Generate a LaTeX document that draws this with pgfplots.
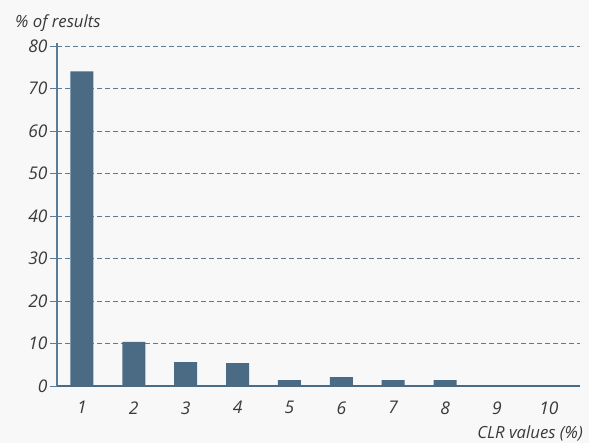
\documentclass[border=0pt]{standalone}
\usepackage{pgfplots}
\pgfplotsset{compat=1.18}
\usepackage{fontspec}
\setmainfont{Open Sans}
\definecolor{bg}{HTML}{F8F8F8}
\definecolor{barc}{HTML}{4B6B85}
\definecolor{gridc}{HTML}{5B7B96}
\definecolor{txt}{HTML}{3A3A3A}
\begin{document}
\begin{tikzpicture}
\fill[bg] (-57bp,-57bp) rectangle (532bp,386bp);
\useasboundingbox (-57bp,-57bp) rectangle (532bp,386bp);
\begin{axis}[
    at={(0,0)}, anchor=south west,
    scale only axis,
    width=523bp, height=343bp,
    xmin=0.52, xmax=10.6,
    ymin=0, ymax=80.7,
    ytick={0,10,...,80},
    xtick={1,...,10},
    axis x line*=bottom,
    axis y line*=left,
    axis line style={gridc, line width=1.2pt, -},
    x axis line style={barc, line width=1.6pt},
    ymajorgrids,
    major grid style={gridc, dash pattern=on 5bp off 3bp, line width=0.7pt},
    tick align=outside,
    major tick length=7bp,
    xtick style={draw=none},
    ytick style={gridc, line width=0.7pt},
    tick label style={font=\fontsize{17.5}{20}\selectfont\itshape, text=txt},
    /pgf/number format/assume math mode=true,
    xticklabel style={yshift=-5bp},
    yticklabel style={xshift=1bp},
]
\addplot[ybar, bar width=23bp, fill=barc, draw=none] coordinates {
    (1,74) (2,10.4) (3,5.6) (4,5.4) (5,1.4) (6,2.1) (7,1.4) (8,1.4) (9,0) (10,0)
};
\end{axis}
\node[anchor=base west, inner sep=0, text=txt, font=\fontsize{16.8}{19}\selectfont\itshape] at (-42bp,358bp) {\% of results};
\node[anchor=base east, inner sep=0, text=txt, font=\fontsize{16.8}{19}\selectfont\itshape] at (526bp,-52bp) {CLR values (\%)};
\end{tikzpicture}
\end{document}
